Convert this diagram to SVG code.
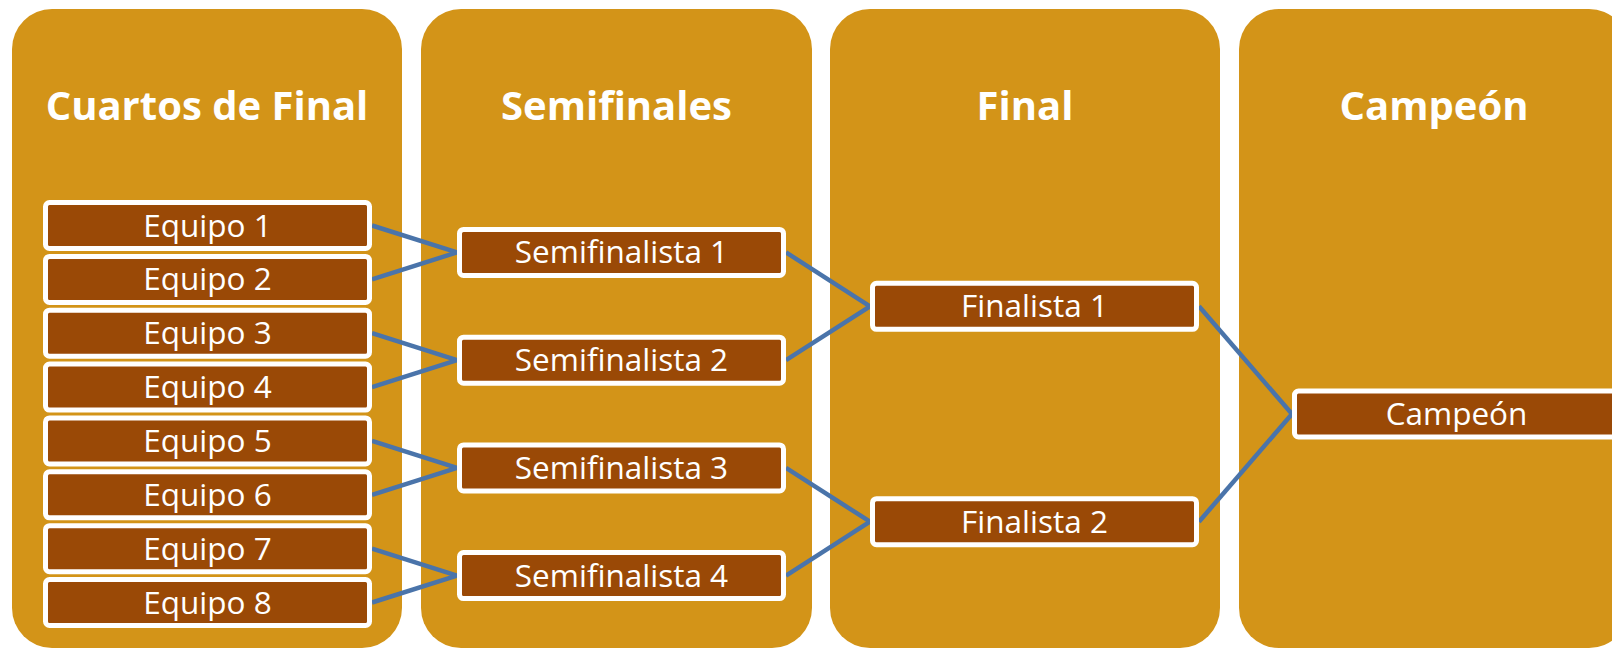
<svg xmlns="http://www.w3.org/2000/svg" width="1612" height="649" viewBox="0 0 1612 649">
<style>
.panel{fill:#D39418;}
.head{font-family:"Open Sans","Noto Sans",sans-serif;font-weight:bold;font-size:40px;fill:#FFFFFF;text-anchor:middle;}
.box{fill:#9A4906;stroke:#FFFFFF;stroke-width:5;}
.lbl{font-family:"Open Sans","Noto Sans",sans-serif;font-size:31.5px;fill:#FFFFFF;text-anchor:middle;}
.conn{stroke:#4A74AA;stroke-width:4.5;fill:none;}
</style>
<rect width="1612" height="649" fill="#FFFFFF"/>
<g id="col-cuartos">
<rect class="panel" x="12" y="9" width="390" height="639" rx="40"/>
<text class="head" x="207" y="120">Cuartos de Final</text>
</g>
<g id="col-semis">
<rect class="panel" x="421" y="9" width="391" height="639" rx="40"/>
<text class="head" x="616.5" y="120">Semifinales</text>
</g>
<g id="col-final">
<rect class="panel" x="830" y="9" width="390" height="639" rx="40"/>
<text class="head" x="1025" y="120">Final</text>
</g>
<g id="col-campeon">
<rect class="panel" x="1239" y="9" width="390" height="639" rx="40"/>
<text class="head" x="1434" y="120">Campeón</text>
</g>
<g id="connectors">
<line class="conn" x1="372" y1="225.5" x2="457" y2="252.4"/>
<line class="conn" x1="372" y1="279.4" x2="457" y2="252.4"/>
<line class="conn" x1="372" y1="333.2" x2="457" y2="360.2"/>
<line class="conn" x1="372" y1="387.1" x2="457" y2="360.2"/>
<line class="conn" x1="372" y1="440.9" x2="457" y2="467.9"/>
<line class="conn" x1="372" y1="494.8" x2="457" y2="467.9"/>
<line class="conn" x1="372" y1="548.7" x2="457" y2="575.6"/>
<line class="conn" x1="372" y1="602.5" x2="457" y2="575.6"/>
<line class="conn" x1="786" y1="252.4" x2="870" y2="306.3"/>
<line class="conn" x1="786" y1="360.2" x2="870" y2="306.3"/>
<line class="conn" x1="786" y1="467.9" x2="870" y2="521.7"/>
<line class="conn" x1="786" y1="575.6" x2="870" y2="521.7"/>
<line class="conn" x1="1199" y1="306.3" x2="1292" y2="414"/>
<line class="conn" x1="1199" y1="521.7" x2="1292" y2="414"/>
</g>
<g id="equipo1"><rect class="box" x="45.5" y="202.5" width="324" height="46" rx="4"/><text class="lbl" x="207.5" y="236.5">Equipo 1</text></g>
<g id="equipo2"><rect class="box" x="45.5" y="256.4" width="324" height="46" rx="4"/><text class="lbl" x="207.5" y="290.4">Equipo 2</text></g>
<g id="equipo3"><rect class="box" x="45.5" y="310.2" width="324" height="46" rx="4"/><text class="lbl" x="207.5" y="344.2">Equipo 3</text></g>
<g id="equipo4"><rect class="box" x="45.5" y="364.1" width="324" height="46" rx="4"/><text class="lbl" x="207.5" y="398.1">Equipo 4</text></g>
<g id="equipo5"><rect class="box" x="45.5" y="417.9" width="324" height="46" rx="4"/><text class="lbl" x="207.5" y="451.9">Equipo 5</text></g>
<g id="equipo6"><rect class="box" x="45.5" y="471.8" width="324" height="46" rx="4"/><text class="lbl" x="207.5" y="505.8">Equipo 6</text></g>
<g id="equipo7"><rect class="box" x="45.5" y="525.7" width="324" height="46" rx="4"/><text class="lbl" x="207.5" y="559.7">Equipo 7</text></g>
<g id="equipo8"><rect class="box" x="45.5" y="579.5" width="324" height="46" rx="4"/><text class="lbl" x="207.5" y="613.5">Equipo 8</text></g>
<g id="semi1"><rect class="box" x="459.5" y="229.4" width="324" height="46" rx="4"/><text class="lbl" x="621.5" y="263.4">Semifinalista 1</text></g>
<g id="semi2"><rect class="box" x="459.5" y="337.2" width="324" height="46" rx="4"/><text class="lbl" x="621.5" y="371.2">Semifinalista 2</text></g>
<g id="semi3"><rect class="box" x="459.5" y="444.9" width="324" height="46" rx="4"/><text class="lbl" x="621.5" y="478.9">Semifinalista 3</text></g>
<g id="semi4"><rect class="box" x="459.5" y="552.6" width="324" height="46" rx="4"/><text class="lbl" x="621.5" y="586.6">Semifinalista 4</text></g>
<g id="final1"><rect class="box" x="872.5" y="283.3" width="324" height="46" rx="4"/><text class="lbl" x="1034.5" y="317.3">Finalista 1</text></g>
<g id="final2"><rect class="box" x="872.5" y="498.7" width="324" height="46" rx="4"/><text class="lbl" x="1034.5" y="532.7">Finalista 2</text></g>
<g id="campeon"><rect class="box" x="1294.5" y="391" width="324" height="46" rx="4"/><text class="lbl" x="1456.5" y="425">Campeón</text></g>
</svg>
